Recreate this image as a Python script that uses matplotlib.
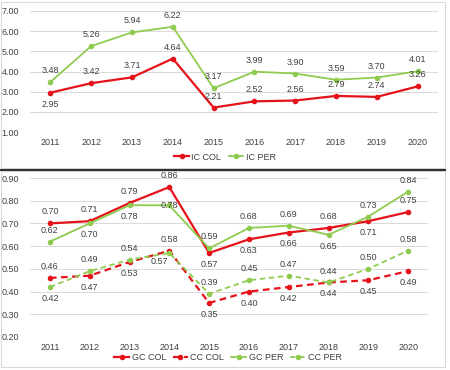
import numpy as np
import matplotlib.pyplot as plt
from matplotlib.patches import Rectangle
from matplotlib.lines import Line2D

plt.rcParams['font.family'] = ['Liberation Sans', 'DejaVu Sans']

years = ['2011', '2012', '2013', '2014', '2015', '2016', '2017', '2018', '2019', '2020']
ic_col = [2.95, 3.42, 3.71, 4.64, 2.21, 2.52, 2.56, 2.79, 2.74, 3.26]
ic_per = [3.48, 5.26, 5.94, 6.22, 3.17, 3.99, 3.90, 3.59, 3.70, 4.01]
gc_col = [0.70, 0.71, 0.79, 0.86, 0.57, 0.63, 0.66, 0.68, 0.71, 0.75]
cc_col = [0.46, 0.47, 0.53, 0.58, 0.35, 0.40, 0.42, 0.44, 0.45, 0.49]
gc_per = [0.62, 0.70, 0.78, 0.78, 0.59, 0.68, 0.69, 0.65, 0.73, 0.84]
cc_per = [0.42, 0.49, 0.54, 0.57, 0.39, 0.45, 0.47, 0.44, 0.50, 0.58]

# label position per point: u = above, d = below, c = on point, l = below-left
pos_ic_col = 'duuuuuuuuu'
pos_ic_per = 'uuuuuuuuuu'
pos_gc_col = 'uuuudddudu'
pos_cc_col = 'uddudddddd'
pos_gc_per = 'uddcuuuduu'
pos_cc_per = 'duuluuuuuu'

RED = '#e5121b'
GREEN = '#8fcb4e'
GRID = '#d9d9d9'
TXT = '#404040'
FS = 6.5

fig = plt.figure(figsize=(4.5, 3.7), dpi=100)

# panel frames + dark separator
fig.patches.append(Rectangle((1/450, 1 - 168/370), 444/450, 166/370, transform=fig.transFigure,
                             fill=False, edgecolor='#d9d9d9', lw=0.8))
fig.patches.append(Rectangle((1/450, 1 - 367/370), 444/450, 196/370, transform=fig.transFigure,
                             fill=False, edgecolor='#d9d9d9', lw=0.8))
fig.lines.append(Line2D([0, 445/450], [1 - 170/370, 1 - 170/370], transform=fig.transFigure,
                        color='#303030', lw=1.5))

ax1 = fig.add_axes([30/450, 1 - 132/370, 408/450, 121/370])
ax2 = fig.add_axes([30/450, 1 - 337/370, 398/450, 159/370])

x = np.arange(len(years))


def label(ax, vals, pos):
    for xi, v, p in zip(x, vals, pos):
        if p == 'u':
            off, va = (0, 5), 'bottom'
        elif p == 'd':
            off, va = (0, -5), 'top'
        elif p == 'l':
            off, va = (-7, -3), 'top'
        else:
            off, va = (0, 0), 'center'
        ax.annotate('{:.2f}'.format(v), (xi, v), xytext=off, textcoords='offset points',
                    ha='center', va=va, fontsize=FS, color=TXT)


def style(ax, lo, hi, step):
    ax.set_xlim(-0.5, len(years) - 0.5)
    ax.set_ylim(lo, hi)
    ticks = np.arange(lo, hi + step / 2, step)
    ax.set_yticks(ticks)
    ax.set_yticklabels(['{:.2f}'.format(t) for t in ticks])
    ax.set_xticks(x)
    ax.set_xticklabels(years)
    ax.grid(axis='y', color=GRID, lw=0.7)
    ax.set_axisbelow(True)
    for s in ax.spines.values():
        s.set_visible(False)
    ax.tick_params(length=0, labelsize=FS, colors=TXT)
    ax.tick_params(axis='y', pad=8)
    ax.tick_params(axis='x', pad=4)


def legend(ax, cx, cy, ncol):
    ax.legend(loc='center', bbox_to_anchor=(cx/450, 1 - cy/370), bbox_transform=fig.transFigure,
              ncol=ncol, frameon=False, fontsize=FS, handlelength=1.6, columnspacing=0.8,
              handletextpad=0.3, labelcolor=TXT)


# top panel
ax1.plot(x, ic_col, color=RED, lw=1.6, marker='o', ms=3, label='IC COL', clip_on=False)
ax1.plot(x, ic_per, color=GREEN, lw=1.3, marker='o', ms=3, label='IC PER', clip_on=False)
style(ax1, 1, 7, 1)
label(ax1, ic_col, pos_ic_col)
label(ax1, ic_per, pos_ic_per)
legend(ax1, 225, 157, 2)

# bottom panel
ax2.plot(x, gc_col, color=RED, lw=1.6, marker='o', ms=3, label='GC COL')
ax2.plot(x, cc_col, color=RED, lw=1.6, ls=(0, (3, 2)), marker='o', ms=3, label='CC COL')
ax2.plot(x, gc_per, color=GREEN, lw=1.3, marker='o', ms=3, label='GC PER')
ax2.plot(x, cc_per, color=GREEN, lw=1.3, ls=(0, (3, 2)), marker='o', ms=3, label='CC PER')
style(ax2, 0.2, 0.9, 0.1)
label(ax2, gc_col, pos_gc_col)
label(ax2, cc_col, pos_cc_col)
label(ax2, gc_per, pos_gc_per)
label(ax2, cc_per, pos_cc_per)
legend(ax2, 228, 358, 4)

fig.savefig('out.png', dpi=100)
